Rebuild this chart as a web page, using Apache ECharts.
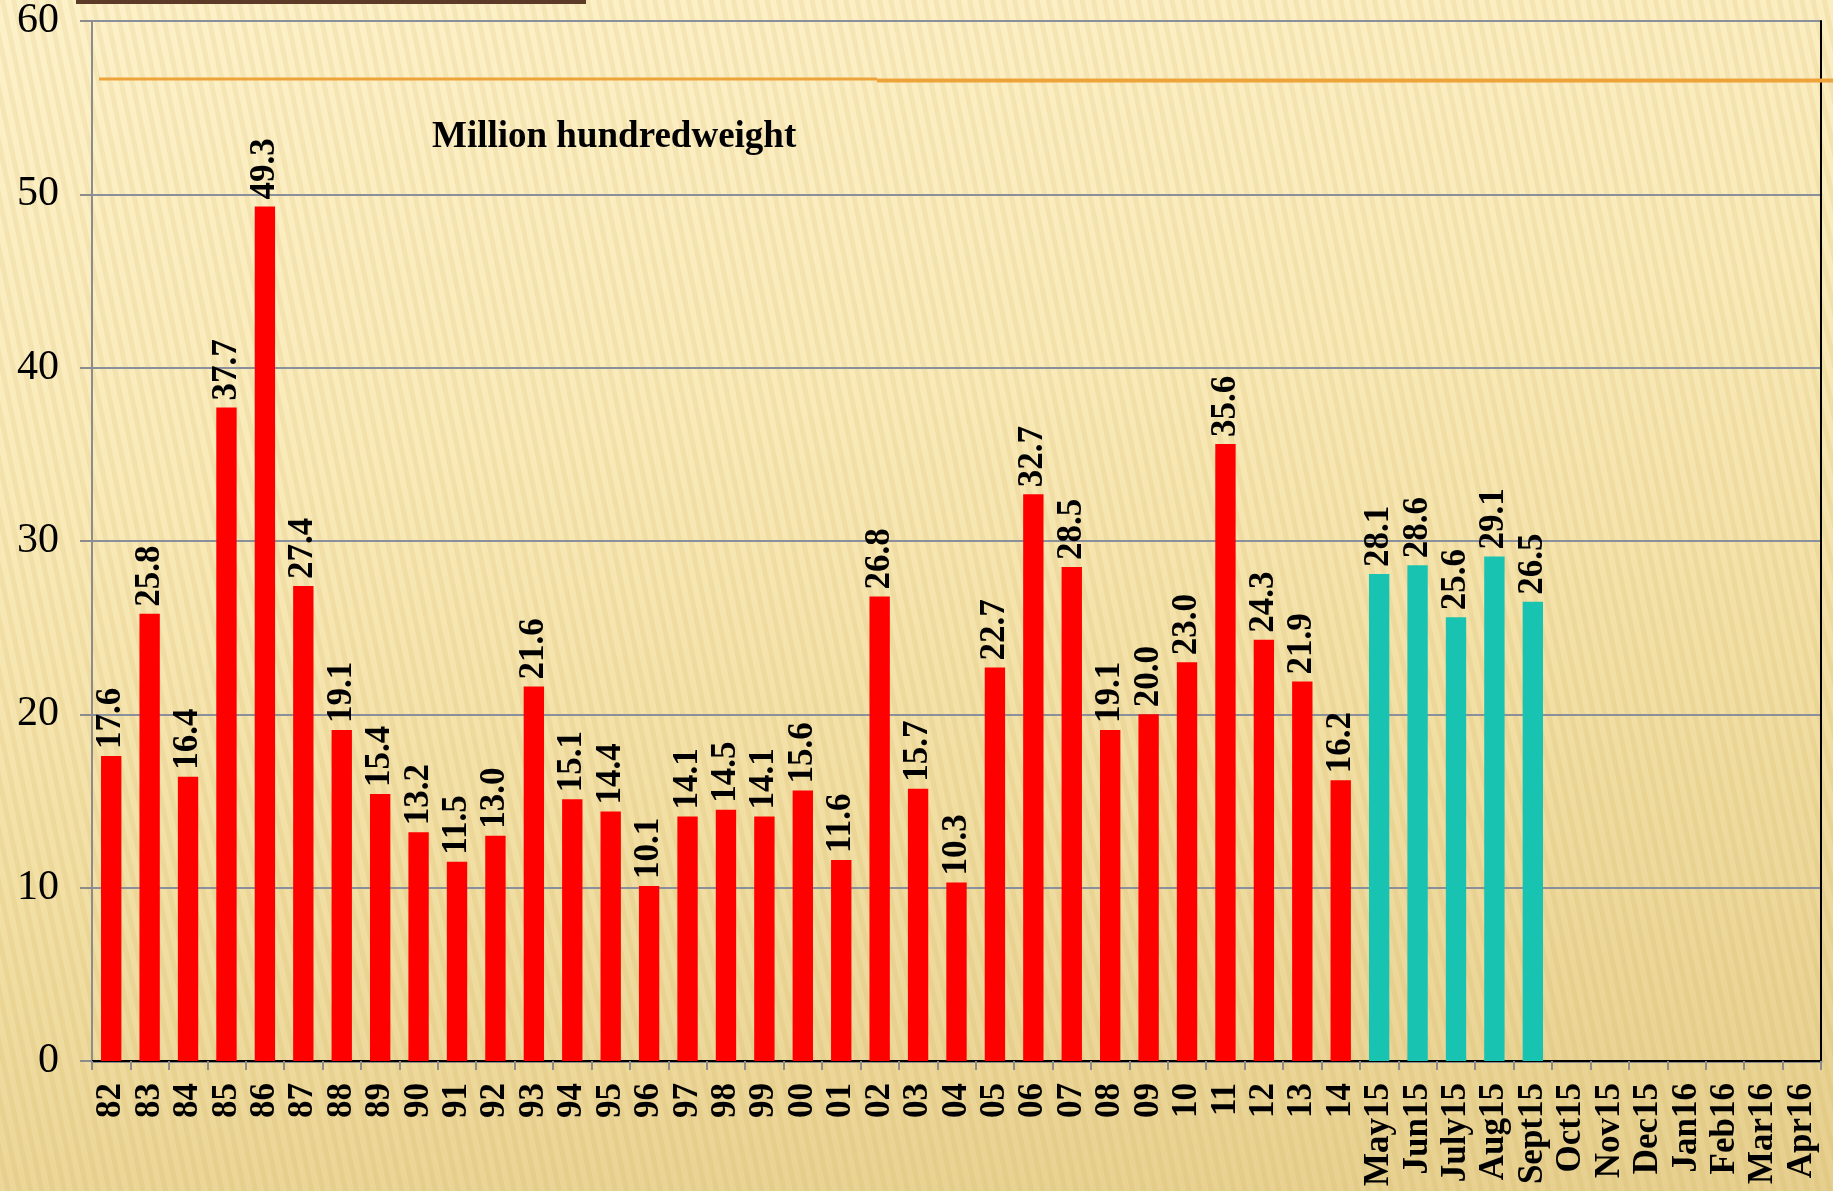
<!DOCTYPE html>
<html><head><meta charset="utf-8">
<script src="https://cdn.jsdelivr.net/npm/echarts@6/dist/echarts.min.js"></script>
<style>
html,body{margin:0;padding:0;width:1833px;height:1191px;overflow:hidden;}
body{
 background:
  repeating-linear-gradient(78deg, rgba(255,255,255,0) 0px, rgba(255,255,255,0) 5px, rgba(190,150,60,0.11) 6px, rgba(190,150,60,0.11) 10px, rgba(255,255,255,0) 11px),
  linear-gradient(172deg, #fdf1c8 0%, #f9eab8 35%, #f1dea2 65%, #e6cf8e 100%);
}
#c{width:1833px;height:1191px;}
</style></head>
<body><div id="c"></div>
<script>
const categories = ['82','83','84','85','86','87','88','89','90','91','92','93','94','95','96','97','98','99','00','01','02','03','04','05','06','07','08','09','10','11','12','13','14','May15','Jun15','July15','Aug15','Sept15','Oct15','Nov15','Dec15','Jan16','Feb16','Mar16','Apr16'];
const annualValues = [17.6,25.8,16.4,37.7,49.3,27.4,19.1,15.4,13.2,11.5,13.0,21.6,15.1,14.4,10.1,14.1,14.5,14.1,15.6,11.6,26.8,15.7,10.3,22.7,32.7,28.5,19.1,20.0,23.0,35.6,24.3,21.9,16.2];
const monthlyValues = [28.1,28.6,25.6,29.1,26.5];
const yTicks = [0,10,20,30,40,50,60];
const unitTitle = 'Million hundredweight';

const annualData = categories.map((c,i)=> i < annualValues.length ? annualValues[i] : null);
const monthlyData = categories.map((c,i)=> {
  const j = i - annualValues.length;
  return (j >= 0 && j < monthlyValues.length) ? monthlyValues[j] : null;
});

const serif = '"Liberation Serif","Times New Roman",serif';
const labelCfg = {
  show:true, position:'top', rotate:90, align:'left', verticalAlign:'middle', distance:7,
  fontFamily:serif, fontWeight:'bold', fontSize:35, color:'#000',
  formatter: p => p.value == null ? '' : Number(p.value).toFixed(1)
};

const chart = echarts.init(document.getElementById('c'), null, {renderer:'canvas'});
chart.setOption({
  backgroundColor:'transparent',
  animation:false,
  grid:{left:92, right:12, top:21, bottom:130, containLabel:false},
  xAxis:[{
    type:'category', data:categories,
    axisLine:{show:true, lineStyle:{color:'#8c8c8c', width:3}},
    axisTick:{show:true, length:9, alignWithLabel:false, lineStyle:{color:'#8c8c8c', width:2}},
    axisLabel:{rotate:90, interval:0, margin:22, fontFamily:serif, fontWeight:'bold', fontSize:35, color:'#000'}
  },{
    type:'category', data:categories, position:'top',
    axisLine:{show:true, lineStyle:{color:'#000', width:2}},
    axisTick:{show:false}, axisLabel:{show:false}
  }],
  yAxis:[{
    type:'value', min:0, max:60, interval:10,
    axisLine:{show:true, lineStyle:{color:'#8c8c8c', width:2}},
    axisTick:{show:true, length:12, lineStyle:{color:'#8c8c8c', width:2}},
    splitLine:{show:true, lineStyle:{color:'#8a8f9c', width:2}},
    axisLabel:{margin:33, fontFamily:serif, fontSize:42, color:'#000',
      formatter: v => yTicks.indexOf(v) >= 0 ? String(v) : ''}
  },{
    type:'value', min:0, max:60, interval:10, position:'right',
    axisLine:{show:true, lineStyle:{color:'#000', width:2}},
    axisTick:{show:false}, axisLabel:{show:false}, splitLine:{show:false}
  }],
  graphic:[
    {type:'rect', shape:{x:76, y:0, width:510, height:4}, style:{fill:'#5b3a28'}, z:10},
    {type:'line', shape:{x1:99, y1:79, x2:877, y2:79}, style:{stroke:'#eda33a', lineWidth:3}, z:10},
    {type:'line', shape:{x1:877, y1:80.5, x2:1833, y2:80.5}, style:{stroke:'#eda33a', lineWidth:4}, z:10},
    {type:'text', left:432, top:119, style:{text:unitTitle, font:'bold 37px '+serif, fill:'#000'}, z:10}
  ],
  series:[
    {name:'annual', type:'bar', stack:'s', data:annualData, barWidth:'53%',
     itemStyle:{color:'#ff0000'}, label:labelCfg},
    {name:'monthly', type:'bar', stack:'s', data:monthlyData, barWidth:'53%',
     itemStyle:{color:'#18c4b1'}, label:labelCfg}
  ]
});
</script>
</body></html>
